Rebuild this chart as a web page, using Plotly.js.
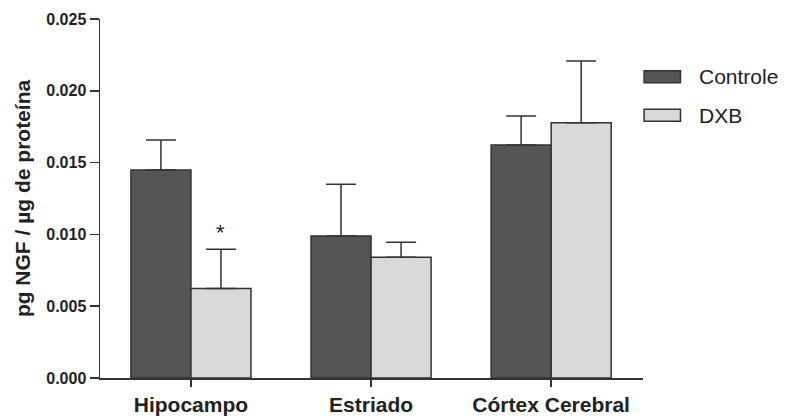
<!DOCTYPE html>
<html>
<head>
<meta charset="utf-8">
<script src="https://cdn.plot.ly/plotly-3.0.1.min.js"></script>
<style>html,body{margin:0;padding:0;background:#fff;}#chart{width:787px;height:418px;}</style>
</head>
<body>
<div id="chart"></div>
<script>
var categories = ["Hipocampo", "Estriado", "Córtex Cerebral"];
var seriesNames = ["Controle", "DXB"];
var controleValues = [0.01448, 0.00989, 0.01622];
var controleErrors = [0.00209, 0.00361, 0.00202];
var dxbValues = [0.00624, 0.00841, 0.01778];
var dxbErrors = [0.00272, 0.00104, 0.00429];
var dxbMarks = ["*", "", ""];
var yTickVals = [0, 0.005, 0.010, 0.015, 0.020, 0.025];

var fillColors = ["#555555", "#d9d9d9"];
var edge = "#333333";
var fontFam = "Arial, 'Liberation Sans', sans-serif";

function barTrace(name, vals, errs, color) {
  return {
    type: "bar", name: name, x: categories, y: vals,
    marker: {color: color, line: {color: edge, width: 1.5}},
    error_y: {type: "data", symmetric: false, array: errs,
      arrayminus: errs.map(function(){return 0;}),
      color: edge, thickness: 1.5, width: 15},
    showlegend: false, hoverinfo: "skip"
  };
}

var data = [
  barTrace(seriesNames[0], controleValues, controleErrors, fillColors[0]),
  barTrace(seriesNames[1], dxbValues, dxbErrors, fillColors[1])
];

var annotations = [];
dxbMarks.forEach(function(m, i) {
  if (m) annotations.push({
    x: i + 1/6, y: dxbValues[i] + dxbErrors[i], xref: "x", yref: "y",
    text: m, showarrow: false, yshift: 17,
    font: {family: fontFam, size: 22, color: "#222"}
  });
});

var shapes = [];
seriesNames.forEach(function(n, i) {
  var yc = 0.839 - i * 0.107;
  shapes.push({type: "rect", xref: "paper", yref: "paper",
    x0: 1.002, x1: 1.069, y0: yc - 0.0167, y1: yc + 0.0167,
    fillcolor: fillColors[i], line: {color: edge, width: 1.5}});
  annotations.push({xref: "paper", yref: "paper", x: 1.1, y: yc,
    xanchor: "left", yanchor: "middle", text: n, showarrow: false,
    font: {family: fontFam, size: 21, color: "#222"}});
});

var layout = {
  width: 787, height: 418,
  margin: {l: 100, r: 144, t: 19, b: 40},
  paper_bgcolor: "#fff", plot_bgcolor: "#fff",
  font: {family: fontFam, color: "#222"},
  barmode: "group", bargap: 1/3, bargroupgap: 0,
  showlegend: false,
  xaxis: {
    type: "category", range: [-0.505, 2.51],
    showline: true, linecolor: edge, linewidth: 1.5,
    ticks: "outside", ticklen: 7, tickcolor: edge, tickwidth: 1.5,
    tickfont: {family: fontFam, size: 21, color: "#222", weight: "bold"},
    showgrid: false, zeroline: false, fixedrange: true
  },
  yaxis: {
    range: [0, 0.025], tickvals: yTickVals, tickformat: ".3f",
    showline: true, linecolor: edge, linewidth: 1.5,
    ticks: "outside", ticklen: 9, tickcolor: edge, tickwidth: 1.5,
    tickfont: {family: fontFam, size: 16, color: "#222", weight: "bold"},
    showgrid: false, zeroline: false, fixedrange: true,
    title: {text: "pg NGF / µg de proteína", standoff: 10,
      font: {family: fontFam, size: 21, color: "#222", weight: "bold"}}
  },
  shapes: shapes,
  annotations: annotations
};

Plotly.newPlot("chart", data, layout, {displayModeBar: false, staticPlot: true});
</script>
</body>
</html>
